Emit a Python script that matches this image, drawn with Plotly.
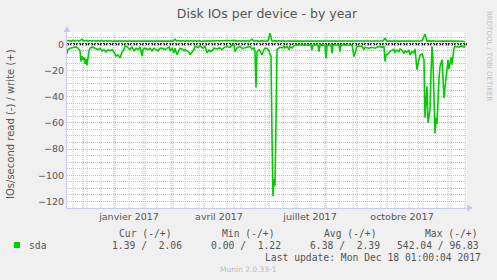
import plotly.graph_objects as go
import pandas as pd

# ---------------- data ----------------
START = "2016-11-15"
END_DAY = 400

read_day = [0, 1, 3, 6, 9, 11, 13, 14, 15, 16, 17, 18, 19, 20, 21, 22, 23, 25, 28, 31,
            33, 35, 37, 39, 41, 43, 45, 47, 49, 51, 53, 55, 57, 58, 60, 63, 65, 67, 69, 71,
            73, 75, 76, 78, 81, 83, 85, 87, 89, 91, 93, 95, 98, 102, 103, 105, 107, 108, 110, 112,
            113, 115, 117, 118, 122, 123, 127, 128, 131, 133, 136, 138, 140, 142, 143, 145, 147, 150, 153, 155,
            157, 160, 163, 165, 167, 168, 170, 173, 175, 177, 180, 183, 185, 187, 188, 189, 190, 192, 193, 195,
            197, 198, 200, 202, 203, 204, 205, 206, 207, 208, 209, 210, 212, 213, 215, 217, 218, 220, 222, 223,
            225, 227, 228, 233, 238, 244, 245, 246, 251, 252, 253, 258, 259, 260, 264, 265, 266, 272, 273, 274,
            285, 286, 287, 288, 290, 292, 295, 297, 298, 302, 305, 308, 312, 315, 317, 318, 319, 321, 323, 325,
            327, 328, 330, 332, 333, 335, 337, 338, 340, 342, 343, 345, 347, 348, 350, 352, 353, 355, 357, 358,
            360, 361, 363, 364, 365, 366, 368, 369, 370, 372, 373, 375, 377, 378, 380, 381, 382, 384, 385, 387,
            388, 392, 393, 395, 397, 398]
read_val = [-7, -4, -3, -2.5, -2, -3, -5, -13, -9, -12, -10, -15, -11, -16, -9, -5, -3, -2, -3, -4,
            -3, -5, -4, -6, -4, -5, -4, -6, -9, -8, -10.5, -6, -4, -1, -2, -4, -2, -5, -3, -4,
            -2, -9, -4, -3, -4, -3, -5, -3, -4, -5, -3, -2.8, -4, -2, -5, -3, -6.6, -3, -7.9, -5,
            -3, -3.5, -5, -4, -6, -8, -4, -1.5, -2.5, -1.2, -3, -1.5, -6.5, -4, -5.5, -5, -3, -3.5, -2.8, -4,
            -2.5, -1.5, -2.5, -0.8, -0.3, -5.5, -2.8, -1.6, -3, -2.8, -2.3, -1.6, -3.5, -2.8, -6, -33, -6, -4, -5, -8,
            -4, -3, -3, -5, -7.5, -9, -70, -116, -103, -108, -60, -4, -2.8, -2.3, -2.8, -1.6, -2.8, -1.6, -4, -1.6,
            -2.8, -1, -0.5, -0.5, -0.7, -0.5, -4.5, -0.5, -0.5, -5.5, -0.5, -0.8, -10.7, -1, -0.5, -7, -0.5, -0.5, -5.5, -0.5,
            -0.5, -4, -9.4, -7, -1.5, -1.5, -1.5, -4, -2.3, -3, -2.3, -3, -1.6, -2.3, -1.6, -13, -7.9, -7.5, -5.5, -4.5,
            -3.8, -6, -4.5, -5.5, -3.5, -4.5, -7, -5, -6, -4.5, -8, -5.5, -6.5, -3.5, -19.3, -11.7, -8.4, -7.4, -11.7, -56,
            -32, -60, -50, -22, -1.5, -13, -68, -56, -61, -26, -17, -11.7, -41, -33, -15.5, -12, -19, -10, -15.5, -2.8,
            -1.6, -2.2, -1.6, -1.2, -2.2, -1.39]

write_day = [0, 2, 4, 6, 8, 10, 12, 14, 15, 17, 19, 21, 23, 25, 27, 29, 31, 33, 35, 37,
             39, 41, 43, 45, 47, 60, 80, 100, 106, 108, 110, 112, 114, 116, 118, 120, 122, 124, 126, 128,
             130, 132, 134, 136, 150, 165, 168, 170, 172, 174, 176, 178, 180, 182, 185, 187, 190, 192, 195, 197,
             200, 201, 203, 205, 208, 210, 212, 214, 216, 218, 221, 228, 230, 232, 240, 245, 247, 260, 280, 300,
             305, 307, 310, 316, 318, 320, 330, 345, 355, 358, 360, 362, 364, 366, 368, 375, 385, 388, 395, 398]
write_val = [2.5, 3.0, 2.3, 3.0, 2.4, 3.0, 2.3, 3.0, 3.8, 2.4, 3.0, 2.3, 2.9, 2.3, 3.0, 2.3, 2.9, 2.3, 3.0, 2.3,
             2.9, 2.3, 2.9, 2.3, 2.4, 2.4, 2.4, 2.4, 2.4, 3.8, 2.4, 2.9, 2.3, 2.9, 2.3, 2.9, 2.3, 2.9, 2.3, 2.9,
             2.3, 2.8, 2.3, 2.4, 2.4, 2.4, 2.9, 2.3, 2.9, 2.3, 2.9, 2.3, 2.9, 2.3, 3.8, 2.4, 2.8, 2.3, 2.8, 2.3,
             2.4, 2.6, 8.5, 2.4, 2.8, 2.3, 2.8, 2.3, 2.8, 2.3, 2.4, 2.4, 2.9, 2.4, 2.4, 2.8, 2.4, 2.4, 2.4, 2.4,
             2.8, 2.4, 2.4, 2.5, 4.5, 2.4, 2.4, 2.4, 2.5, 7.8, 2.4, 2.8, 2.3, 2.8, 2.3, 2.4, 2.8, 2.4, 2.3, 2.06]

month_labels = ["janvier 2017", "avril 2017", "juillet 2017", "octobre 2017"]
label_dates = ["2017-01-16", "2017-04-16", "2017-07-16", "2017-10-16"]
y_ticks = [0, -20, -40, -60, -80, -100, -120]

series_name = "sda"
stat_headers = ["Cur (-/+)", "Min (-/+)", "Avg (-/+)", "Max (-/+)"]
stat_values = ["1.39 /  2.06", "0.00 /  1.22", "6.38 /  2.39", "542.04 / 96.83"]
last_update = "Last update: Mon Dec 18 01:00:04 2017"
footer = "Munin 2.0.33-1"
title = "Disk IOs per device - by year"
ytitle = "IOs/second read (-) / write (+)"
watermark = "RRDTOOL / TOBI OETIKER"

# ---------------- layout geometry ----------------
W, H = 497, 280
L, R, T, B = 67, 30, 32, 72
PW, PH = W - L - R, H - T - B

def px(x):
    return (x - L) / PW

def py(y):
    return (H - B - y) / PH

start = pd.Timestamp(START)
end = start + pd.Timedelta(days=END_DAY)
read_x = [start + pd.Timedelta(days=d) for d in read_day]
write_x = [start + pd.Timedelta(days=d) for d in write_day]

GREEN = "#00cc00"
TXT = "#555555"
RED_GRID = "#f2a8a8"
GRAY_GRID = "#c4c4c4"
AXIS = "#c8c8f4"

fig = go.Figure()
fig.add_trace(go.Scatter(x=read_x, y=read_val, mode="lines",
                         line=dict(color=GREEN, width=1.6), showlegend=False, name="read"))
fig.add_trace(go.Scatter(x=write_x, y=write_val, mode="lines",
                         line=dict(color=GREEN, width=1.6), showlegend=False, name="write"))

shapes = []
# minor vertical grid: every two weeks on Mondays
for d in pd.date_range("2016-11-21", end, freq="14D"):
    shapes.append(dict(type="line", xref="x", yref="paper", x0=d, x1=d, y0=0, y1=1,
                       line=dict(color=GRAY_GRID, width=1, dash="1px,1px"), layer="below"))
# major vertical grid: month starts
for d in pd.date_range("2016-12-01", end, freq="MS"):
    shapes.append(dict(type="line", xref="x", yref="paper", x0=d, x1=d, y0=0, y1=1,
                       line=dict(color=RED_GRID, width=1, dash="1px,1px"), layer="below"))
# zero line
shapes.append(dict(type="line", xref="paper", yref="y", x0=0, x1=1, y0=0, y1=0,
                   line=dict(color="#000000", width=2, dash="2px,1px"), layer="between"))
# axis arrows
shapes.append(dict(type="path", xref="paper", yref="paper",
                   path=f"M {px(63.5)} {py(32)} L {px(70.5)} {py(32)} L {px(67)} {py(26)} Z",
                   fillcolor=AXIS, line=dict(width=0)))
shapes.append(dict(type="path", xref="paper", yref="paper",
                   path=f"M {px(467)} {py(204.5)} L {px(467)} {py(211.5)} L {px(473)} {py(208)} Z",
                   fillcolor=AXIS, line=dict(width=0)))
# legend swatch
shapes.append(dict(type="rect", xref="paper", yref="paper",
                   x0=px(14), x1=px(20), y0=py(248), y1=py(242),
                   fillcolor=GREEN, line=dict(width=0)))

MONO = "DejaVu Sans Mono"
SANS = "DejaVu Sans"

def ann(text, x, y, size, color=TXT, family=MONO, xanchor="left", angle=0):
    return dict(text=text.replace(" ", "\u00a0"), x=px(x), y=py(y), xref="paper", yref="paper",
                xanchor=xanchor, yanchor="middle", showarrow=False, textangle=angle,
                font=dict(family=family, size=size, color=color))

annotations = [
    ann(ytitle, 10, 124, 10, family=SANS, xanchor="center", angle=-90),
    ann(watermark, 489, 56, 7, color="#c0c0c0", family=SANS, xanchor="center", angle=90),
    ann(series_name, 27, 245.5, 9.7),
]
head_x = [117, 220, 322, 423]
val_x = [110, 209, 308, 395]
for h, hx in zip(stat_headers, head_x):
    annotations.append(ann(h, hx, 233, 9.7))
for v, vx in zip(stat_values, val_x):
    annotations.append(ann(v, vx, 245.5, 9.7))
annotations.append(ann(last_update, 483, 257.5, 9.7, xanchor="right"))
annotations.append(ann(footer, 248, 269, 7.5, color="#bbbbbb", family=SANS, xanchor="center"))

fig.update_layout(
    width=W, height=H,
    margin=dict(l=L, r=R, t=T, b=B, pad=0),
    paper_bgcolor="#f0f0f0",
    plot_bgcolor="#ffffff",
    title=dict(text=title, x=0.5, xref="paper", xanchor="center", y=1 - 14 / H, yanchor="middle",
               font=dict(family=SANS, size=12.5, color=TXT)),
    showlegend=False,
    shapes=shapes,
    annotations=annotations,
    xaxis=dict(type="date", range=[start, end], tickmode="array", tickvals=label_dates,
               ticktext=month_labels, showgrid=False, zeroline=False, ticks="",
               showline=True, linecolor=AXIS, linewidth=1, fixedrange=True,
               tickfont=dict(family=SANS, size=9.5, color=TXT)),
    yaxis=dict(range=[-125, 9.4], tickmode="array", tickvals=y_ticks,
               showgrid=True, gridcolor=RED_GRID, griddash="1px,1px", gridwidth=1,
               minor=dict(tickmode="linear", tick0=0, dtick=5, showgrid=True,
                          gridcolor=GRAY_GRID, griddash="1px,1px", gridwidth=1),
               zeroline=False, ticks="", showline=True, linecolor=AXIS, linewidth=1,
               fixedrange=True, tickfont=dict(family=SANS, size=9.5, color=TXT)),
)

fig.write_html("out.html")
